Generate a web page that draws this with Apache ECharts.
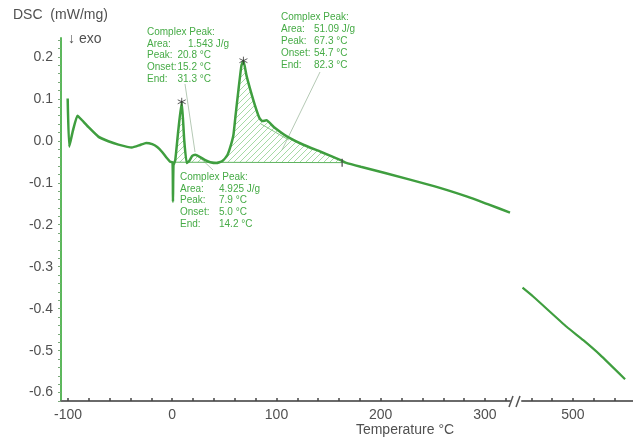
<!DOCTYPE html>
<html><head><meta charset="utf-8">
<script src="https://cdn.jsdelivr.net/npm/echarts@6/dist/echarts.min.js"></script>
<style>html,body{margin:0;padding:0;background:#fff}#c{width:633px;height:441px}</style>
</head><body><div id="c"></div>
<script>
// ---- data ----
const tempLow = [-100.3, -98.8, -95.2, -90.9, -86.5, -80.5, -70.9, -61.3, -51.6, -38.8, -30.8, -25, -19.2, -14.4, -9.9, -5.8, -1.9, 0.3, 0.7, 1.2, 2.9, 5.8, 9.1, 11.5, 13.9, 16.3, 19.2, 22.1, 26.9, 31.7, 36.5, 42.3, 48.1, 52.9, 55.8, 58.7, 60.6, 63.5, 66.3, 68.3, 71.2, 75, 79.8, 83.7, 86.5, 90.4, 97.4, 110.3, 126.3, 142.3, 161.5, 166.3, 180.8, 203.2, 251, 283, 302.6, 324];
const dscLow = [0.101, -0.014, 0.025, 0.060, 0.049, 0.033, 0.010, -0.001, -0.009, -0.016, -0.010, -0.005, -0.008, -0.015, -0.026, -0.039, -0.050, -0.051, -0.145, -0.058, -0.046, 0.025, 0.093, 0.002, -0.053, -0.048, -0.036, -0.033, -0.039, -0.046, -0.051, -0.053, -0.048, -0.034, -0.014, 0.014, 0.057, 0.121, 0.178, 0.191, 0.156, 0.121, 0.081, 0.054, 0.047, 0.049, 0.033, 0.010, -0.010, -0.026, -0.046, -0.052, -0.062, -0.076, -0.108, -0.133, -0.151, -0.171];
const tempHigh = [451.6, 461.8, 493.9, 509.9, 526, 550];
const dscHigh = [-0.350, -0.371, -0.443, -0.475, -0.510, -0.568];
const baselineTemp = [1.2, 163];
const baselineDsc = [-0.051, -0.052];
const splitTemp = [84.6, 111.8];
const splitDsc = [0.041, 0.002];
const peakTemp = [9.1, 68.3];
const peakDsc = [0.093, 0.191];
const yTickLabels = [-0.6, -0.5, -0.4, -0.3, -0.2, -0.1, 0.0, 0.1, 0.2];
const xTickLabelsLow = [-100, 0, 100, 200, 300];
const xTickLabelsHigh = [500];
const xTicksLow = [-100, -80, -60, -40, -20, 0, 20, 40, 60, 80, 100, 120, 140, 160, 180, 200, 220, 240, 260, 280, 300, 320];
const xTicksHigh = [460, 480, 500, 520, 540];
const yTicks = [];
for (let i = -31; i <= 12; i++) yTicks.push(Math.round(i * 2) / 100);

const peaks = [
  {title: 'Complex Peak:', area: '1.543 J/g', peak: '20.8 °C', onset: '15.2 °C', end: '31.3 °C'},
  {title: 'Complex Peak:', area: '51.09 J/g', peak: '67.3 °C', onset: '54.7 °C', end: '82.3 °C'},
  {title: 'Complex Peak:', area: '4.925 J/g', peak: '7.9 °C', onset: '5.0 °C', end: '14.2 °C'}
];

// ---- chart ----
const chart = echarts.init(document.getElementById('c'), null, {renderer: 'canvas'});
const pat = document.createElement('canvas');
pat.width = 6; pat.height = 6;
const pc = pat.getContext('2d');
pc.strokeStyle = '#8fd08f'; pc.lineWidth = 0.8;
pc.beginPath(); pc.moveTo(0, 6); pc.lineTo(6, 0); pc.moveTo(-3, 3); pc.lineTo(3, -3); pc.moveTo(3, 9); pc.lineTo(9, 3); pc.stroke();

const GREEN = '#3f9e3f';
const TXT = '#505050';
const FONT = 'Liberation Sans, Arial, sans-serif';
const ANN = '#46ab46';

const lowData = tempLow.map((t, i) => [t, dscLow[i]]);
const highData = tempHigh.map((t, i) => [t, dscHigh[i]]);

function baseAt(t) {
  const f = (t - baselineTemp[0]) / (baselineTemp[1] - baselineTemp[0]);
  return baselineDsc[0] + f * (baselineDsc[1] - baselineDsc[0]);
}

const commonY = {
  type: 'value', min: -0.62, max: 0.245,
  splitLine: {show: false}
};

const texts = [];
function block(p, x, xv, xvArea, y0, dy) {
  const rows = [['', p.title], ['Area:', p.area], ['Peak:', p.peak], ['Onset:', p.onset], ['End:', p.end]];
  rows.forEach((r, i) => {
    const y = y0 + i * dy;
    if (i === 0) {
      texts.push({type: 'text', x: x, y: y, style: {text: r[1], fill: ANN, font: '10px ' + FONT, verticalAlign: 'middle'}});
    } else {
      texts.push({type: 'text', x: x, y: y, style: {text: r[0], fill: ANN, font: '10px ' + FONT, verticalAlign: 'middle'}});
      texts.push({type: 'text', x: (i === 1 ? xvArea : xv), y: y, style: {text: r[1], fill: ANN, font: '10px ' + FONT, verticalAlign: 'middle'}});
    }
  });
}
block(peaks[0], 147, 177.5, 188, 32, 11.8);
block(peaks[1], 281, 314, 314, 17, 12);
block(peaks[2], 180, 219, 219, 177.5, 11.6);

const leader = (x1, y1, x2, y2) => ({type: 'line', shape: {x1, y1, x2, y2}, style: {stroke: '#b5c9b5', lineWidth: 1}});

chart.setOption({
  animation: false,
  grid: [
    {left: 61, top: 38, width: 449, height: 363, containLabel: false},
    {left: 522, top: 38, width: 111, height: 363, containLabel: false}
  ],
  xAxis: [
    {type: 'value', gridIndex: 0, min: -106.7, max: 324,
      axisLine: {onZero: false, lineStyle: {color: '#6a6a6a', width: 2}},
      axisTick: {show: true, inside: true, length: 3, customValues: xTicksLow, lineStyle: {color: '#444', width: 1.5}},
      axisLabel: {customValues: xTickLabelsLow, color: TXT, fontSize: 14, fontFamily: FONT, margin: 7},
      splitLine: {show: false}},
    {type: 'value', gridIndex: 1, min: 451.1, max: 557.6,
      axisLine: {onZero: false, lineStyle: {color: '#6a6a6a', width: 2}},
      axisTick: {show: true, inside: true, length: 3, customValues: xTicksHigh, lineStyle: {color: '#444', width: 1.5}},
      axisLabel: {customValues: xTickLabelsHigh, color: TXT, fontSize: 14, fontFamily: FONT, margin: 7},
      splitLine: {show: false}}
  ],
  yAxis: [
    Object.assign({gridIndex: 0,
      axisLine: {show: true, onZero: false, lineStyle: {color: '#5cb85c', width: 2}},
      axisTick: {show: true, length: 3, customValues: yTicks, lineStyle: {color: '#7aa87a', width: 1}},
      axisLabel: {customValues: yTickLabels, color: TXT, fontSize: 14, fontFamily: FONT, margin: 8,
        formatter: v => (Math.abs(v) < 1e-9 ? 0 : v).toFixed(1)}}, commonY),
    Object.assign({gridIndex: 1, show: false}, commonY)
  ],
  series: [
    {type: 'custom', xAxisIndex: 0, yAxisIndex: 0, data: [[0, 0]], silent: true, z: 1,
      renderItem: function (params, api) {
        const pts = [];
        for (let i = 0; i < tempLow.length; i++) {
          const t = tempLow[i];
          if (t < baselineTemp[0] || t > baselineTemp[1]) continue;
          pts.push(api.coord([t, Math.max(dscLow[i], baseAt(t))]));
        }
        pts.push(api.coord([baselineTemp[1], baselineDsc[1]]));
        pts.push(api.coord([baselineTemp[0], baselineDsc[0]]));
        return {type: 'polygon', shape: {points: pts}, style: {fill: {image: pat, repeat: 'repeat'}, stroke: null}};
      }},
    {type: 'line', xAxisIndex: 0, yAxisIndex: 0, data: baselineTemp.map((t, i) => [t, baselineDsc[i]]),
      showSymbol: false, lineStyle: {color: '#5fb35f', width: 1}, z: 2, silent: true},
    {type: 'line', xAxisIndex: 0, yAxisIndex: 0, data: splitTemp.map((t, i) => [t, splitDsc[i]]),
      showSymbol: false, lineStyle: {color: '#8cc88c', width: 1}, z: 2, silent: true},
    {type: 'line', xAxisIndex: 0, yAxisIndex: 0, data: lowData, showSymbol: false,
      smooth: 0.15,
      lineStyle: {color: GREEN, width: 2.5}, z: 3},
    {type: 'line', xAxisIndex: 1, yAxisIndex: 1, data: highData, showSymbol: false,
      smooth: 0.15, lineStyle: {color: GREEN, width: 2.2}, z: 3},
    {type: 'scatter', xAxisIndex: 0, yAxisIndex: 0, data: peakTemp.map((t, i) => [t, peakDsc[i]]),
      symbol: 'path://M0,-5L0,5M-4.3,-2.5L4.3,2.5M-4.3,2.5L4.3,-2.5', symbolSize: 8,
      itemStyle: {color: 'none', borderColor: '#333', borderWidth: 1}, z: 4},
    {type: 'scatter', xAxisIndex: 0, yAxisIndex: 0, data: [[baselineTemp[1], baselineDsc[1]]],
      symbol: 'rect', symbolSize: [1.5, 8], itemStyle: {color: '#444'}, z: 4}
  ],
  graphic: [
    {type: 'text', x: 13, y: 15, style: {text: 'DSC  (mW/mg)', fill: TXT, font: '14px ' + FONT, verticalAlign: 'middle'}},
    {type: 'text', x: 68, y: 39, style: {text: '↓ exo', fill: TXT, font: '14px ' + FONT, verticalAlign: 'middle'}},
    {type: 'text', x: 405, y: 430, style: {text: 'Temperature °C', fill: TXT, font: '14px ' + FONT, align: 'center', verticalAlign: 'middle'}},
    {type: 'line', shape: {x1: 509, y1: 407, x2: 513, y2: 396}, style: {stroke: '#555', lineWidth: 1.5}},
    {type: 'line', shape: {x1: 516, y1: 407, x2: 520, y2: 396}, style: {stroke: '#555', lineWidth: 1.5}},
    leader(185, 84, 195, 152),
    leader(320, 72, 282, 150),
    leader(196, 154, 213, 170)
  ].concat(texts)
});
</script>
</body></html>
